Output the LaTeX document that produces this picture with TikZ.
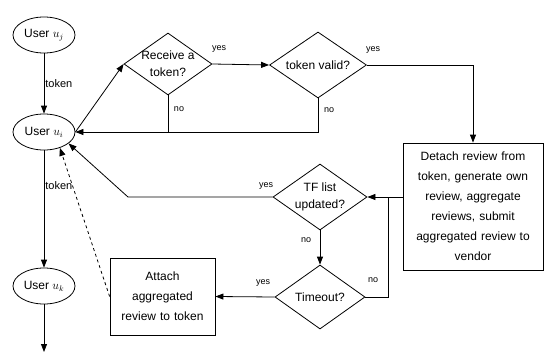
\documentclass[tikz,border=0pt]{standalone}
\usepackage{fontspec}
\setmainfont{Liberation Sans}
\usetikzlibrary{shapes.geometric,arrows.meta}
\begin{document}
\begin{tikzpicture}[x=1pt,y=-1pt,
 line/.style={draw=black, line width=0.8pt},
 arr/.style={line, -{Triangle[length=8pt,width=6pt]}},
 dia/.style={diamond, draw, line width=0.8pt, inner sep=0pt},
 txt/.style={font=\fontsize{12}{17}\selectfont, align=center, inner sep=0pt},
 lab/.style={font=\fontsize{9}{10}\selectfont, inner sep=1pt},
 user/.style={ellipse, draw, line width=0.8pt, inner sep=0pt, minimum width=62pt, minimum height=36pt, font=\fontsize{12}{14}\selectfont},
 procbox/.style={rectangle, draw, line width=0.8pt, align=center, font=\fontsize{12}{20}\selectfont, inner sep=2pt}]
\useasboundingbox (0,0) rectangle (553,353);
\fill[white] (0,0) rectangle (553,353);

% users
\node[user] (uj) at (44,35) {User $u_j$};
\node[user] (ui) at (44,132) {User $u_i$};
\node[user] (uk) at (44,286) {User $u_k$};
\coordinate (uend) at (44,352);

% diamonds
\node[dia, minimum width=88pt, minimum height=62pt] (recv) at (168,64) {};
\node[txt] (recvt) at (recv) {Receive a\\token?};
\node[dia, minimum width=97pt, minimum height=66pt] (valid) at (318,65) {};
\node[txt] (validt) at (valid) {token valid?};
\node[dia, minimum width=94pt, minimum height=66pt] (tf) at (320,197) {};
\node[txt] (tft) at (tf) {TF list\\updated?};
\node[dia, minimum width=90pt, minimum height=64pt] (tmo) at (320,297) {};
\node[txt] (tmot) at (tmo) {Timeout?};

% boxes
\node[procbox, minimum width=140pt, minimum height=127pt, text width=134pt] (det) at (473,206.5)
 {Detach review from\\token, generate own\\review, aggregate\\reviews, submit\\aggregated review to\\vendor};
\node[procbox, minimum width=105pt, minimum height=77pt, text width=99pt] (att) at (162.5,296.5)
 {Attach\\aggregated\\review to token};

% coordinates
\coordinate (tfbend) at (128,197);
\coordinate (tmobend) at (388,297);

% connectors
\draw[arr] (uj) -- node[lab, anchor=west, font=\fontsize{11}{12}\selectfont] (l1) {token} (ui);
\draw[arr] (ui) -- node[lab, anchor=west, pos=0.3, font=\fontsize{11}{12}\selectfont] (l2) {token} (uk);
\draw[arr] (uk) -- (uend);
\draw[arr] (ui.east) -- (recv.west);
\draw[arr] (recv.east) -- (valid.west);
\node[lab] (l3) at (219,49) {yes};
\draw[arr] (valid.east) -| (det.north);
\node[lab] (l4) at (373,50) {yes};
\draw[arr] (valid.south) |- (ui.east);
\node[lab] (l5) at (329,110) {no};
\draw[line] (recv.south) -- (recv.south |- ui.east);
\node[lab] (l6) at (179,109) {no};
\draw[arr] (det.west |- tf.east) -- (tf.east);
\draw[line] (tmo.east) -- (tmobend) -- (tmobend |- tf.east);
\node[lab] (l7) at (373,280) {no};
\draw[arr] (tf.south) -- (tmo.north);
\node[lab] (l8) at (306,240) {no};
\draw[arr] (tmo.west) -- (att.east);
\node[lab] (l9) at (263,283) {yes};
\draw[arr] (tf.west) -- (tfbend) -- (ui.-25);
\node[lab] (l10) at (266,186) {yes};
\draw[arr, dashed] (att.west) -- (ui.-45);
\end{tikzpicture}
\end{document}
